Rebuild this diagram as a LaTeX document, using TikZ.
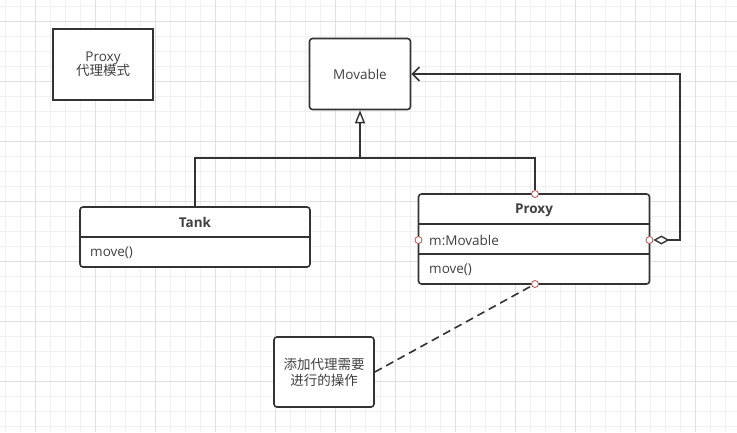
\documentclass[tikz,border=0pt]{standalone}
\usepackage{fontspec}
\setmainfont{Open Sans}
\newfontfamily\cjk{Noto Sans CJK SC}
\usetikzlibrary{arrows.meta}
\definecolor{ln}{HTML}{333333}
\definecolor{txt}{HTML}{404040}
\definecolor{gminor}{HTML}{F0F0F0}
\definecolor{gmajor}{HTML}{E0E0E0}
\definecolor{port}{HTML}{B85450}
\tikzset{
  box/.style={draw=ln,line width=1.6pt,fill=white,inner sep=0pt,text=txt,font=\fontsize{13.5}{16}\selectfont,align=center},
  rbox/.style={box,rounded corners=3pt},
  conn/.style={draw=ln,line width=1.6pt},
  divider/.style={draw=ln,line width=1.6pt},
  lbl/.style={text=txt,font=\fontsize{13.5}{16}\selectfont,inner sep=0pt},
  hdr/.style={lbl,font=\fontsize{13.5}{16}\selectfont\bfseries},
  portc/.style={circle,draw=port,fill=white,line width=0.8pt,minimum size=7pt,inner sep=0pt},
  gridminor/.style={draw=gminor,line width=0.8pt},
  gridmajor/.style={draw=gmajor,line width=0.8pt}
}
\begin{document}
\begin{tikzpicture}[x=1pt,y=-1pt]
\useasboundingbox (0,0) rectangle (737,432);
\fill[white] (0,0) rectangle (737,432);
\foreach \x in {5,20,...,735} \draw[gridminor] (\x,0) -- (\x,432);
\foreach \y in {6.7,21.7,...,432} \draw[gridminor] (0,\y) -- (737,\y);
\foreach \x in {35,95,...,735} \draw[gridmajor] (\x,0) -- (\x,432);
\foreach \y in {21.7,81.7,...,432} \draw[gridmajor] (0,\y) -- (737,\y);

% title box
\node[box,minimum width=100pt,minimum height=71pt] (title) at (103,64.5) {Proxy\\[-2pt]{\cjk\fontsize{13.5}{16}\selectfont 代理模式}};

% Movable
\node[rbox,minimum width=101pt,minimum height=71pt] (mov) at (360,74) {Movable};

% Tank class
\node[rbox,minimum width=230pt,minimum height=60pt] (tank) at (195,237) {};
\draw[divider] (tank.west |- 0,237) -- (tank.east |- 0,237);
\node[hdr] (tankname) at (195,222.5) {Tank};
\node[lbl,anchor=west] (tankop) at (90,252.5) {move()};

% Proxy class
\node[rbox,minimum width=231pt,minimum height=90pt] (proxy) at (534,239) {};
\draw[divider] (proxy.west |- 0,224) -- (proxy.east |- 0,224);
\draw[divider] (proxy.west |- 0,254) -- (proxy.east |- 0,254);
\node[hdr] (proxyname) at (534,210) {Proxy};
\node[lbl,anchor=west] (proxyattr) at (429,240) {m:Movable};
\node[lbl,anchor=west] (proxyop) at (429,270) {move()};

% note
\node[rbox,minimum width=100pt,minimum height=70pt,font=\cjk\fontsize{13.5}{16}\selectfont] (note) at (324,372) {添加代理需要\\[0pt]进行的操作};

% connectors
\coordinate (junc) at (360,158);
\coordinate (aggc) at (680,240);
\node[portc] (ptop) at (535,194) {};
\node[portc] (pbot) at (535,284) {};
\node[portc] (pleft) at (418.5,240) {};
\node[portc] (pright) at (649.5,240) {};

\draw[conn] (tank.north) |- (junc);
\draw[conn] (ptop.north) |- (junc);
\draw[conn,-{Triangle[open,length=13pt,width=10pt,line width=1.4pt]}] (junc) -- (mov.south);
\draw[conn,{Diamond[open,length=16pt,width=9pt,line width=1.4pt]}-{Straight Barb[length=7pt,width=14pt,line width=1.6pt]}] (pright.east) -- (aggc) |- (mov.east);
\draw[conn,dash pattern=on 8pt off 5pt] (note.east) -- (pbot);
\end{tikzpicture}
\end{document}
